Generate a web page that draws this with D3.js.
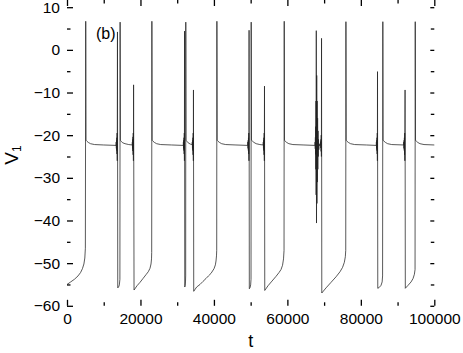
<!DOCTYPE html>
<html>
<head>
<meta charset="utf-8">
<script src="https://cdn.jsdelivr.net/npm/d3@7"></script>
<style>
body { margin: 0; background: #fff; }
text { font-family: "Liberation Sans", Arial, sans-serif; }
</style>
</head>
<body>
<div id="chart"></div>
<script>
// [t, V1] pairs, one array per episode
var episode1 = [[0,-55.0],[1000,-54.4],[2000,-53.8],[3000,-53.0],[3700,-52.2],[4200,-51.3],[4600,-50.2],[4850,-48.8],[5000,-46.5],[5100,6.7],[5180,-21.2],
  [5400,-21.4],[5800,-21.7],[6400,-22.0],[7500,-22.2],[10000,-22.3],[13350,-22.4],
  [13400,-21.6],[13440,-23.1],[13480,-21.2],[13520,-23.6],[13560,-20.6],[13600,-24.4],[13640,-19.5],[13680,-26.0],[13740,4.2],[13820,-55.8],
  [14050,-55.6],[14250,-55.1],[14400,-53.8],[14460,6.5],[14540,-21.2]];
var episode2 = [[14800,-21.5],[15200,-21.8],[15800,-22.0],[16800,-22.2],[17750,-22.3],
  [17800,-21.6],[17840,-23.1],[17880,-21.0],[17920,-23.7],[17960,-20.4],[18000,-24.6],[18040,-19.5],[18080,-26.0],[18130,-8.2],[18250,-56.3],
  [19060,-55.3],[19880,-54.5],[20700,-53.6],[21510,-52.7],[22140,-52.0],[22600,-51.2],[22870,-50.2],[23010,-49.0],[23060,-47.5],[23110,6.7],[23180,-21.2]];
var episode3 = [[23400,-21.4],[23800,-21.7],[24400,-22.0],[25500,-22.2],[28500,-22.3],[31650,-22.4],
  [31700,-21.6],[31740,-23.1],[31780,-21.2],[31820,-23.6],[31860,-20.6],[31900,-24.4],[31940,-19.5],[31970,-26.0],[32000,4.4],[32060,-55.6],
  [32180,-55.3],[32270,-54.2],[32310,-53.0],[32340,6.5],[32400,-21.2]];
var episode4 = [[32600,-21.4],[33000,-21.8],[33600,-22.1],[34080,-22.2],
  [34120,-21.6],[34160,-23.1],[34200,-21.2],[34240,-23.6],[34280,-20.6],[34320,-24.6],[34360,-19.5],[34400,-26.0],[34430,-9.4],[34500,-56.6],
  [35300,-55.6],[36210,-55.0],[37000,-54.3],[37850,-53.6],[38500,-53.0],[39210,-52.4],[40030,-51.3],[40400,-50.4],[40570,-49.5],[40700,-48.3],[40760,-47.0],[40810,6.7],[40880,-21.2]];
var episode5 = [[41100,-21.4],[41500,-21.7],[42100,-22.0],[43200,-22.2],[46000,-22.3],[49200,-22.4],
  [49250,-21.6],[49290,-23.1],[49330,-21.2],[49370,-23.6],[49410,-20.6],[49450,-24.4],[49490,-19.5],[49530,-26.0],[49570,4.6],[49640,-56.0],
  [49850,-55.7],[50000,-55.1],[50100,-53.8],[50150,6.5],[50230,-21.2]];
var episode6 = [[50500,-21.4],[50900,-21.7],[51500,-22.0],[52500,-22.2],[53400,-22.3],
  [53450,-21.6],[53490,-23.1],[53530,-21.2],[53570,-23.6],[53610,-20.6],[53650,-24.6],[53690,-19.5],[53730,-26.0],[53770,-8.5],[53840,-56.4],
  [54730,-55.3],[55820,-54.2],[56910,-53.1],[57730,-52.2],[58270,-51.5],[58680,-50.5],[58950,-49.0],[59090,-47.0],[59140,6.7],[59210,-21.2]];
var episode7 = [[59400,-21.4],[59800,-21.7],[60400,-22.0],[61500,-22.2],[64500,-22.3],[67500,-22.4],
  [67550,-21.6],[67590,-23.2],[67630,-20.5],[67670,-24.5],[67710,-18.0],[67750,-28.0],[67790,-12.0],[67830,-34.0],[67870,4.5],[67930,-40.6],
  [67990,-6.0],[68050,-36.0],[68110,-12.0],[68170,-31.0],[68230,-16.0],[68290,-28.0],[68350,-19.0],[68410,-25.0],[68480,-21.0],[68550,-23.4],
  [68650,-22.0],[68800,-22.5],[69000,-22.3],
  [69060,-21.5],[69100,-23.0],[69140,-21.0],[69180,-23.8],[69220,-20.0],[69260,-25.0],[69300,2.7],[69370,-57.0],
  [70530,-55.8],[71890,-54.5],[73250,-53.2],[74340,-52.0],[75020,-51.0],[75510,-49.8],[75780,-48.5],[75890,-47.0],[75940,6.6],[76010,-21.2]];
var episode8 = [[76200,-21.4],[76600,-21.7],[77200,-22.0],[78300,-22.2],[81500,-22.3],[84200,-22.4],
  [84240,-21.6],[84280,-23.1],[84320,-21.2],[84360,-23.6],[84400,-20.6],[84440,-24.4],[84480,-19.5],[84510,-26.0],[84540,-5.1],[84610,-55.9],
  [85000,-55.7],[85500,-55.2],[85800,-54.4],[85920,-53.0],[85990,6.6],[86060,-21.2]];
var episode9 = [[86300,-21.4],[86700,-21.7],[87300,-22.0],[88400,-22.2],[91650,-22.3],
  [91700,-21.6],[91740,-23.1],[91780,-21.2],[91820,-23.6],[91860,-20.6],[91900,-24.6],[91940,-19.5],[91980,-26.0],[92040,-9.4],[92110,-55.9],
  [92860,-55.2],[93680,-54.4],[94220,-53.6],[94580,-52.6],[94760,-51.5],[94810,6.6],[94880,-21.2],
  [95100,-21.4],[95500,-21.7],[96100,-22.0],[97200,-22.2],[100000,-22.3]];

var xMajor = [0, 20000, 40000, 60000, 80000, 100000];
var xMinor = [10000, 30000, 50000, 70000, 90000];
var yMajor = [10, 0, -10, -20, -30, -40, -50, -60];
var yMinor = [5, -5, -15, -25, -35, -45, -55];

var trace = [].concat(episode1, episode2, episode3, episode4, episode5, episode6, episode7, episode8, episode9);

var width = 463,
    height = 353;
var margin = {top: 7.2, right: 28.7, bottom: 47.2, left: 67};

var x = d3.scaleLinear().domain([0, 100000]).range([margin.left, width - margin.right]);
var y = d3.scaleLinear().domain([-60, 10]).range([height - margin.bottom, margin.top]);

var svg = d3.select("#chart").append("svg")
    .attr("width", width)
    .attr("height", height);

// the trace
var line = d3.line()
    .x(function(d) { return x(d[0]); })
    .y(function(d) { return y(d[1]); });

svg.append("path")
    .datum(trace)
    .attr("d", line)
    .attr("fill", "none")
    .attr("stroke", "#222")
    .attr("stroke-width", 0.75);

// ticks point inwards on all four sides
function addAxis(axis, tx, ty, size, labels) {
    var g = svg.append("g")
        .attr("transform", "translate(" + tx + "," + ty + ")")
        .call(axis.tickSize(-size).tickPadding(7));
    g.select(".domain").remove();
    g.selectAll(".tick line").attr("stroke", "#000").attr("stroke-width", 1.3);
    if (!labels) g.selectAll(".tick text").remove();
    g.selectAll(".tick text")
        .attr("fill", "#000")
        .style("font-size", "15.5px")
        .style("font-family", '"Liberation Sans", Arial, sans-serif');
    return g;
}
var bottom = y(-60), top = y(10), left = x(0), right = x(100000);

addAxis(d3.axisBottom(x).tickValues(xMajor).tickFormat(d3.format("d")), 0, bottom, 6, true);
addAxis(d3.axisBottom(x).tickValues(xMinor), 0, bottom, 3.5, false);
addAxis(d3.axisTop(x).tickValues(xMajor), 0, top, 6, false);
addAxis(d3.axisTop(x).tickValues(xMinor), 0, top, 3.5, false);
addAxis(d3.axisLeft(y).tickValues(yMajor).tickFormat(d3.format("d")), left, 0, 6, true);
addAxis(d3.axisLeft(y).tickValues(yMinor), left, 0, 3.5, false);
addAxis(d3.axisRight(y).tickValues(yMajor), right, 0, 4, false);
addAxis(d3.axisRight(y).tickValues(yMinor), right, 0, 3.5, false);

// frame
svg.append("rect")
    .attr("x", left)
    .attr("y", top)
    .attr("width", right - left)
    .attr("height", bottom - top)
    .attr("fill", "none")
    .attr("stroke", "#000")
    .attr("stroke-width", 1.5);

// axis titles and panel label
svg.append("text")
    .attr("x", (left + right) / 2)
    .attr("y", 347)
    .attr("text-anchor", "middle")
    .style("font-size", "18px")
    .text("t");

var ylab = svg.append("text")
    .attr("transform", "translate(18,155) rotate(-90)")
    .attr("text-anchor", "middle")
    .style("font-size", "19px");
ylab.append("tspan").text("V");
ylab.append("tspan").attr("dy", 3).style("font-size", "12px").text("1");

svg.append("text")
    .attr("x", 96)
    .attr("y", 39)
    .style("font-size", "16px")
    .text("(b)");
</script>
</body>
</html>
